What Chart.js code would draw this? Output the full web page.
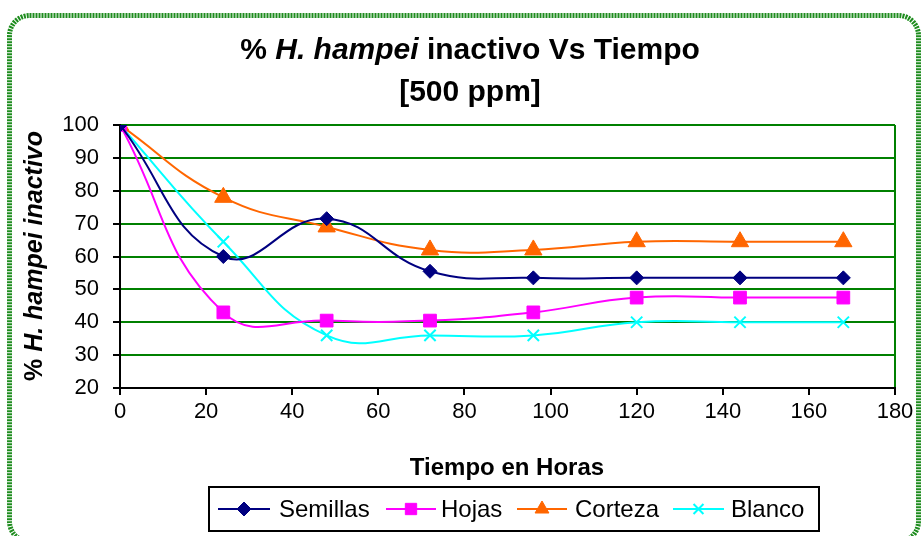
<!DOCTYPE html>
<html>
<head>
<meta charset="utf-8">
<script src="https://cdn.jsdelivr.net/npm/chart.js@4/dist/chart.umd.min.js"></script>
<style>
html,body{margin:0;padding:0;background:#fff;}
#wrap{position:relative;width:922px;height:536px;}
</style>
</head>
<body>
<div id="wrap"><canvas id="c" width="922" height="536"></canvas></div>
<script>
const hours = [0, 24, 48, 72, 96, 120, 144, 168];
const semillas = [100, 60, 71.5, 55.5, 53.5, 53.5, 53.5, 53.5];
const hojas = [100, 43, 40.5, 40.5, 43, 47.5, 47.5, 47.5];
const corteza = [100, 78, 69, 62, 62, 64.5, 64.5, 64.5];
const blanco = [100, 64.5, 36, 36, 36, 40, 40, 40];
const xTicks = [0, 20, 40, 60, 80, 100, 120, 140, 160, 180];
const yTicks = [20, 30, 40, 50, 60, 70, 80, 90, 100];
const seriesNames = ['Semillas', 'Hojas', 'Corteza', 'Blanco'];

const FONT = '"Liberation Sans", Arial, sans-serif';
const GREEN = '#008000';

function pts(arr){ return arr.map((v,i)=>({x:hours[i], y:v})); }

const styles = [
  {color:'#000080', ps:'rectRot', r:7, lr:7},
  {color:'#FF00FF', ps:'rect', r:9, lr:8},
  {color:'#FF6600', ps:'triangle', r:10, lr:8},
  {color:'#00FFFF', ps:'crossRot', r:8, lr:7}
];
const dataArrs = [semillas, hojas, corteza, blanco];

const datasets = dataArrs.map((arr,i)=>({
  label: seriesNames[i],
  data: pts(arr),
  borderColor: styles[i].color,
  backgroundColor: styles[i].color,
  pointBackgroundColor: styles[i].color,
  pointBorderColor: styles[i].color,
  pointStyle: styles[i].ps,
  pointRadius: styles[i].r,
  pointBorderWidth: styles[i].ps==='crossRot'?2:1,
  borderWidth: 2,
  tension: 0.45,
  fill: false
}));

function drawMixed(ctx, segs, cx, cy, size){
  let total = 0;
  const widths = segs.map(s=>{
    ctx.font = (s.i?'italic ':'') + 'bold ' + size + 'px ' + FONT;
    const w = ctx.measureText(s.t).width; total += w; return w;
  });
  let x = cx - total/2;
  ctx.textBaseline = 'middle';
  ctx.textAlign = 'left';
  segs.forEach((s,k)=>{
    ctx.font = (s.i?'italic ':'') + 'bold ' + size + 'px ' + FONT;
    ctx.fillText(s.t, x, cy);
    x += widths[k];
  });
}

const decor = {
  id:'decor',
  beforeDraw(chart){
    const ctx = chart.ctx;
    ctx.save();
    ctx.fillStyle = '#fff';
    ctx.fillRect(0,0,chart.width,chart.height);
    ctx.restore();
  },
  afterDraw(chart){
    const ctx = chart.ctx;
    ctx.save();
    // border
    ctx.strokeStyle = '#1e8c1e';
    ctx.lineWidth = 5;
    ctx.setLineDash([2,1]);
    ctx.beginPath();
    ctx.roundRect(9.5, 15.5, 909, 526, 20);
    ctx.stroke();
    ctx.setLineDash([]);
    ctx.fillStyle = '#000';
    // title
    drawMixed(ctx, [{t:'% ',i:false},{t:'H. hampei',i:true},{t:' inactivo Vs Tiempo',i:false}], 470, 51, 30);
    drawMixed(ctx, [{t:'[500 ppm]',i:false}], 470, 93, 30);
    // x title
    drawMixed(ctx, [{t:'Tiempo en Horas',i:false}], 507, 468, 24);
    // y title
    ctx.save();
    ctx.translate(35, 256);
    ctx.rotate(-Math.PI/2);
    drawMixed(ctx, [{t:'% ',i:false},{t:'H. hampei inactivo',i:true}], 0, 0, 25);
    ctx.restore();
    // legend
    const lx = 209, ly = 487, lw = 610, lh = 44;
    ctx.strokeStyle = '#000';
    ctx.lineWidth = 2;
    ctx.strokeRect(lx, ly, lw, lh);
    const items = [{x0:218, x1:270, tx:279},{x0:386, x1:436, tx:441},{x0:517, x1:567, tx:575},{x0:673, x1:724, tx:731}];
    const cy = ly + lh/2;
    items.forEach((it,i)=>{
      ctx.strokeStyle = styles[i].color;
      ctx.lineWidth = 2;
      ctx.beginPath(); ctx.moveTo(it.x0, cy); ctx.lineTo(it.x1, cy); ctx.stroke();
      ctx.fillStyle = styles[i].color;
      ctx.strokeStyle = styles[i].color;
      ctx.lineWidth = styles[i].ps==='crossRot'?2:1;
      Chart.helpers.drawPoint(ctx, {pointStyle: styles[i].ps, rotation:0, radius: styles[i].lr, borderWidth:1}, (it.x0+it.x1)/2, cy);
      ctx.fillStyle = '#000';
      ctx.font = '24px ' + FONT;
      ctx.textAlign = 'left';
      ctx.textBaseline = 'middle';
      ctx.fillText(seriesNames[i], it.tx, cy + 1);
    });
    ctx.restore();
  }
};

new Chart(document.getElementById('c'), {
  type: 'line',
  data: { datasets },
  options: {
    responsive: false,
    animation: false,
    layout: { padding: { left: 0, right: 27, top: 125, bottom: 0 } },
    plugins: { legend: { display: false }, title: { display: false }, tooltip: { enabled: false } },
    scales: {
      x: {
        type: 'linear', min: 0, max: 180,
        afterFit(s){ s.height = 148; },
        afterBuildTicks(s){ s.ticks = xTicks.map(v=>({value:v})); },
        ticks: { color:'#000', font:{ family: FONT, size: 22 }, padding: 4, maxRotation:0, autoSkip:false },
        grid: {
          color: c => (c.tick && c.tick.value === 180) ? GREEN : 'rgba(0,0,0,0)',
          lineWidth: 2, tickColor: '#000', tickLength: 7, drawTicks: true
        },
        border: { color: '#000', width: 2 }
      },
      y: {
        min: 20, max: 100,
        afterFit(s){ s.width = 120; },
        afterBuildTicks(s){ s.ticks = yTicks.map(v=>({value:v})); },
        ticks: { color:'#000', font:{ family: FONT, size: 22 }, padding: 14 },
        grid: {
          color: c => (c.tick && c.tick.value === 20) ? 'rgba(0,0,0,0)' : GREEN,
          lineWidth: 2, tickColor: '#000', tickLength: 7
        },
        border: { color: '#000', width: 2 }
      }
    }
  },
  plugins: [decor]
});
</script>
</body>
</html>
